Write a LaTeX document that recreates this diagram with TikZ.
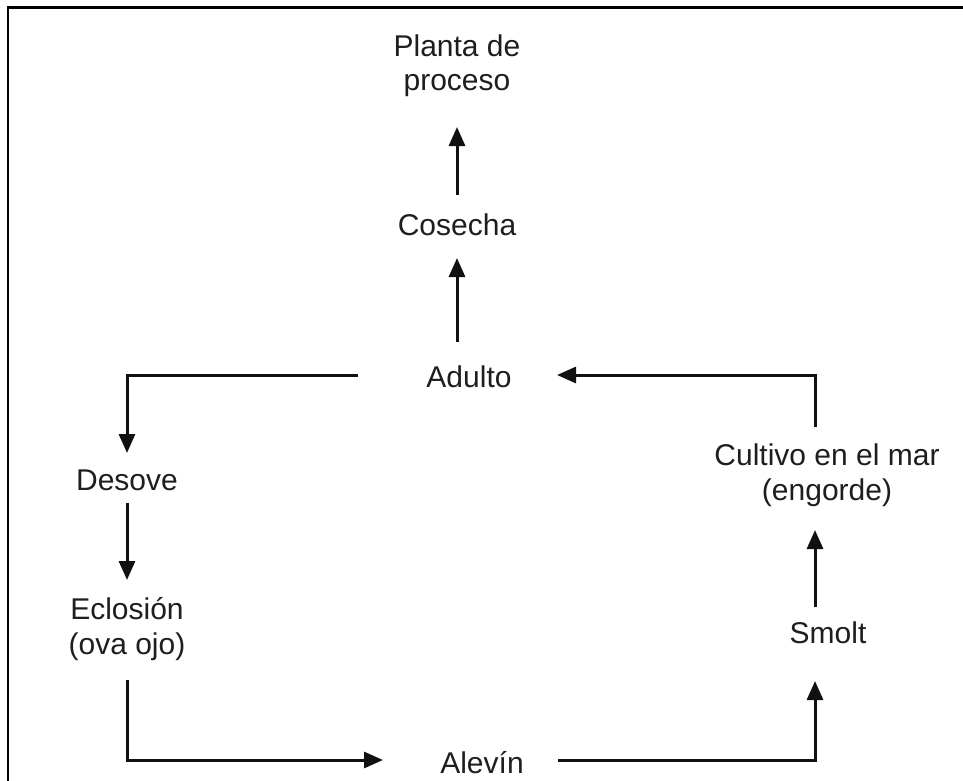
\documentclass[tikz,border=0pt]{standalone}
\usepackage{fontspec}
\setmainfont{Liberation Sans}
\usetikzlibrary{arrows.meta,calc}
\definecolor{txt}{HTML}{1E1E1E}
\definecolor{ln}{HTML}{111111}
\begin{document}
\begin{tikzpicture}[x=1pt,y=-1pt,
  lbl/.style={inner sep=0pt, outer sep=0pt, anchor=base, text=txt,
    font=\fontsize{30}{34.5}\selectfont, align=center},
  arr/.style={draw=ln, line width=3pt,
    -{Triangle[length=19pt,width=16pt]}},
  frame/.style={draw=black, line width=2.6pt}]
\useasboundingbox (0,0) rectangle (963,781);
\draw[frame] (8,790) -- (8,7.5) -- (970,7.5);

% base anchor of a two-line label = baseline of its last line
\node[lbl] (planta) at (457,91) {Planta de\\proceso};
\node[lbl] (cosecha) at (457,235) {Cosecha};
\node[lbl] (adulto) at (469,387) {Adulto};
\node[lbl] (desove) at (127,490) {Desove};
\node[lbl] (eclosion) at (127,654) {Eclosión\\(ova ojo)};
\node[lbl] (alevin) at (482,773) {Alevín};
\node[lbl] (smolt) at (828,643) {Smolt};
\node[lbl] (cultivo) at (827,500) {Cultivo en el mar\\(engorde)};

% Cosecha -> Planta
\draw[arr] ([yshift=40pt]cosecha.base) -- ([yshift=-36pt]planta.base);
% Adulto -> Cosecha
\draw[arr] ([xshift=-12pt,yshift=45pt]adulto.base) -- ([yshift=-23pt]cosecha.base);
% Adulto -> Desove
\draw[arr] ([xshift=-111pt,yshift=12pt]adulto.base) -| ([yshift=37pt]desove.base);
% Desove -> Eclosion
\draw[arr] ([yshift=-13pt]desove.base) -- ([yshift=74pt]eclosion.base);
% Eclosion -> Alevin
\draw[arr] ([yshift=-26pt]eclosion.base) |- ([xshift=-99pt,yshift=13pt]alevin.base);
% Alevin -> Smolt
\draw[arr] ([xshift=76pt,yshift=13pt]alevin.base) -| ([xshift=-13pt,yshift=-38pt]smolt.base);
% Smolt -> Cultivo
\draw[arr] ([xshift=-13pt,yshift=36pt]smolt.base) -- ([xshift=-12pt,yshift=-30pt]cultivo.base);
% Cultivo -> Adulto
\draw[arr] ([xshift=-12pt,yshift=73pt]cultivo.base) |- ([xshift=88pt,yshift=12pt]adulto.base);
\end{tikzpicture}
\end{document}
